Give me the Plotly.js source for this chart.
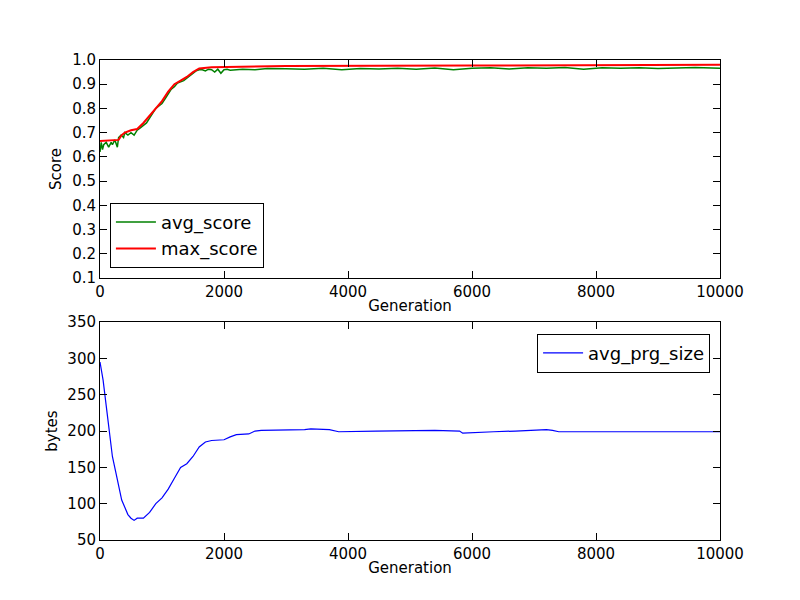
<!DOCTYPE html>
<html>
<head>
<script src="https://cdn.plot.ly/plotly-3.0.1.min.js"></script>
<style>body{margin:0}</style>
</head>
<body>
<div id="chart" style="width:800px;height:600px"></div>
<script>
// score courbes
var genMax = [0, 300, 350, 400, 500, 600, 700, 800, 900, 1000, 1100, 1200, 1300, 1400, 1500, 1600, 1800, 3000, 6000, 10000];
var maxScore = [0.665, 0.67, 0.69, 0.70, 0.71, 0.715, 0.74, 0.77, 0.80, 0.83, 0.87, 0.90, 0.915, 0.93, 0.95, 0.965, 0.97, 0.975, 0.977, 0.98];

var genAvg = [0, 20, 40, 60, 100, 140, 180, 200, 240, 280, 300, 340, 380, 400, 450, 500, 550, 600, 650, 700, 750, 800, 850, 900, 950, 1000,
  1050, 1100, 1150, 1200, 1250, 1300, 1350, 1400, 1450, 1500, 1550, 1600, 1650, 1700, 1750, 1800, 1850, 1900, 1950, 2000, 2050, 2100,
  2300, 2500, 2700, 3000, 3300, 3600, 3900, 4200, 4500, 4800, 5100, 5400, 5700, 6000, 6300, 6600, 6900, 7200, 7500, 7800, 8100, 8400, 8700, 9000, 9300, 9600, 10000];
var avgScore = [0.62, 0.66, 0.63, 0.65, 0.66, 0.64, 0.66, 0.65, 0.67, 0.64, 0.68, 0.69, 0.68, 0.70, 0.69, 0.70, 0.69, 0.71, 0.72, 0.73, 0.74, 0.76, 0.78, 0.80, 0.81, 0.82,
  0.84, 0.86, 0.88, 0.89, 0.905, 0.91, 0.915, 0.925, 0.935, 0.945, 0.955, 0.96, 0.96, 0.955, 0.962, 0.96, 0.95, 0.962, 0.945, 0.96, 0.962, 0.958,
  0.962, 0.96, 0.965, 0.964, 0.962, 0.966, 0.96, 0.965, 0.963, 0.966, 0.962, 0.967, 0.96, 0.966, 0.968, 0.963, 0.968, 0.966, 0.969, 0.962, 0.968, 0.966, 0.968, 0.965, 0.967, 0.969, 0.966];

var genPrg = [0, 50, 100, 150, 200, 250, 300, 350, 400, 450, 500, 550, 600, 700, 800, 900, 1000, 1100, 1200, 1300, 1400, 1500, 1600, 1700, 1800, 1900, 2000, 2100, 2200, 2400, 2500, 2600, 3000, 3300, 3400, 3700, 3850, 4400, 4450, 5400, 5800, 5850, 6300, 6350, 6700, 7200, 7300, 7400, 10000];
var prgSize = [295, 270, 235, 200, 165, 145, 125, 105, 95, 85, 80, 77, 80, 80, 88, 100, 108, 120, 135, 150, 155, 165, 178, 185, 187, 188, 188, 192, 195, 196, 200, 201, 201, 202, 203, 202, 199, 199, 200, 201, 200, 197, 198, 199, 200, 202, 201, 199, 199];

var fnt = {family: 'DejaVu Sans', size: 15, color: '#000'};
var axisBase = {showgrid: false, zeroline: false, showline: true, linecolor: '#000', linewidth: 1, mirror: 'ticks',
  ticks: 'inside', ticklen: 7, tickcolor: '#000', tickfont: fnt};
var legFont = {family: 'DejaVu Sans', size: 18, color: '#000'};

var data = [
  {x: genAvg, y: avgScore, type: 'scatter', mode: 'lines', name: 'avg_score', line: {color: '#008000', width: 1.5}, xaxis: 'x', yaxis: 'y', legend: 'legend'},
  {x: genMax, y: maxScore, type: 'scatter', mode: 'lines', name: 'max_score', line: {color: '#ff0000', width: 2}, xaxis: 'x', yaxis: 'y', legend: 'legend'},
  {x: genPrg, y: prgSize, type: 'scatter', mode: 'lines', name: 'avg_prg_size', line: {color: '#0000ff', width: 1.2}, xaxis: 'x2', yaxis: 'y2', legend: 'legend2'}
];

var layout = {
  width: 800, height: 600,
  margin: {l: 100, r: 80, t: 60, b: 60},
  paper_bgcolor: '#fff', plot_bgcolor: '#fff',
  font: fnt,
  xaxis: Object.assign({}, axisBase, {range: [0, 10000], dtick: 2000, tickformat: 'd', anchor: 'y', title: {text: 'Generation', font: fnt, standoff: 0}}),
  yaxis: Object.assign({}, axisBase, {domain: [0.546, 1], range: [0.1, 1.0], dtick: 0.1, tickformat: '.1f', anchor: 'x', title: {text: 'Score', font: fnt, standoff: 6}}),
  xaxis2: Object.assign({}, axisBase, {range: [0, 10000], dtick: 2000, tickformat: 'd', anchor: 'y2', title: {text: 'Generation', font: fnt, standoff: 0}}),
  yaxis2: Object.assign({}, axisBase, {domain: [0, 0.454], range: [50, 350], dtick: 50, anchor: 'x2', title: {text: 'bytes', font: fnt, standoff: 6}}),
  legend: {x: 0.016, y: 0.567, xanchor: 'left', yanchor: 'bottom', bordercolor: '#000', borderwidth: 1, bgcolor: '#fff',
    font: legFont, itemwidth: 40, tracegroupgap: 4},
  legend2: {x: 0.984, y: 0.43, xanchor: 'right', yanchor: 'top', bordercolor: '#000', borderwidth: 1, bgcolor: '#fff',
    font: legFont, itemwidth: 40},
  showlegend: true
};

Plotly.newPlot('chart', data, layout, {displayModeBar: false});
</script>
</body>
</html>
